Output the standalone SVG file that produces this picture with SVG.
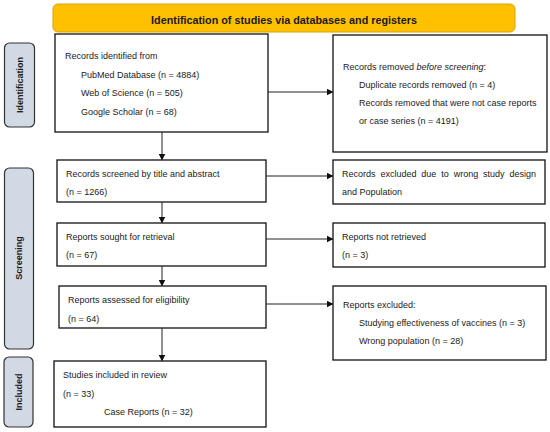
<svg xmlns="http://www.w3.org/2000/svg" width="550" height="432" viewBox="0 0 550 432">
<style>
text{font-family:"Liberation Sans",Arial,sans-serif;fill:#1a1a1a}
.t{font-size:9px}
.box{fill:#fff;stroke:#111;stroke-width:1.3}
.side{fill:#d0d9e4;stroke:#333;stroke-width:1.2}
.sl{font-size:9px;font-weight:bold;text-anchor:middle}
.c{stroke:#222;stroke-width:1;fill:none;marker-end:url(#ah)}
</style>
<defs>
<marker id="ah" markerWidth="7" markerHeight="7" refX="6" refY="3.5" orient="auto" markerUnits="userSpaceOnUse">
<path d="M0,0 L7,3.5 L0,7 Z" fill="#111"/>
</marker>
</defs>
<rect width="550" height="432" fill="#fff"/>
<g id="header">
<rect x="53" y="4" width="462" height="28" rx="5" fill="#ffc000" stroke="#dba200" stroke-width="1"/>
<text x="284" y="23.5" font-size="10.8" font-weight="bold" text-anchor="middle">Identification of studies via databases and registers</text>
</g>
<g id="label-identification">
<rect class="side" x="4.5" y="43" width="30" height="84" rx="5"/>
<text class="sl" transform="translate(22.5,85) rotate(-90)">Identification</text>
</g>
<g id="label-screening">
<rect class="side" x="4.5" y="168" width="29" height="181" rx="5"/>
<text class="sl" transform="translate(22,258) rotate(-90)">Screening</text>
</g>
<g id="label-included">
<rect class="side" x="4" y="357" width="29" height="70" rx="5"/>
<text class="sl" transform="translate(21.5,392) rotate(-90)">Included</text>
</g>
<g id="records-identified">
<rect class="box" x="55" y="34" width="213" height="98"/>
<text class="t" x="65" y="59">Records identified from</text>
<text class="t" x="81" y="78">PubMed Database (n = 4884)</text>
<text class="t" x="81" y="96">Web of Science (n = 505)</text>
<text class="t" x="81" y="115">Google Scholar (n = 68)</text>
</g>
<g id="records-removed">
<rect class="box" x="333" y="35" width="214" height="117"/>
<text class="t" x="343" y="70">Records removed <tspan font-style="italic">before screening</tspan>:</text>
<text class="t" x="359" y="88">Duplicate records removed (n = 4)</text>
<text class="t" x="359" y="106">Records removed that were not case reports</text>
<text class="t" x="359" y="124">or case series (n = 4191)</text>
</g>
<g id="records-screened">
<rect class="box" x="57" y="160" width="209" height="42"/>
<text class="t" x="66" y="177">Records screened by title and abstract</text>
<text class="t" x="66" y="195">(n = 1266)</text>
</g>
<g id="records-excluded">
<rect class="box" x="333" y="160" width="212" height="44"/>
<text class="t" x="342" y="177" word-spacing="2.4">Records excluded due to wrong study design</text>
<text class="t" x="342" y="195">and Population</text>
</g>
<g id="reports-sought">
<rect class="box" x="57" y="223" width="209" height="43"/>
<text class="t" x="66" y="240">Reports sought for retrieval</text>
<text class="t" x="66" y="258">(n = 67)</text>
</g>
<g id="reports-not-retrieved">
<rect class="box" x="333" y="223" width="212" height="44"/>
<text class="t" x="342" y="240">Reports not retrieved</text>
<text class="t" x="342" y="258">(n = 3)</text>
</g>
<g id="reports-assessed">
<rect class="box" x="59" y="286" width="207" height="42"/>
<text class="t" x="68" y="303">Reports assessed for eligibility</text>
<text class="t" x="68" y="322">(n = 64)</text>
</g>
<g id="reports-excluded">
<rect class="box" x="333" y="286" width="213" height="74"/>
<text class="t" x="343" y="308">Reports excluded:</text>
<text class="t" x="359" y="326">Studying effectiveness of vaccines (n = 3)</text>
<text class="t" x="359" y="344">Wrong population (n = 28)</text>
</g>
<g id="studies-included">
<rect class="box" x="54" y="361" width="212" height="66"/>
<text class="t" x="63" y="378">Studies included in review</text>
<text class="t" x="63" y="397">(n = 33)</text>
<text class="t" x="104" y="415">Case Reports (n = 32)</text>
</g>
<g id="connectors">
<path class="c" d="M162,132 V159.5"/>
<path class="c" d="M162,202 V222.5"/>
<path class="c" d="M162,266 V285.5"/>
<path class="c" d="M162,328 V360.5"/>
<path class="c" d="M268,92 H332.5"/>
<path class="c" d="M266,176 H332.5"/>
<path class="c" d="M266,239 H332.5"/>
<path class="c" d="M266,304 H332.5"/>
</g>
</svg>
